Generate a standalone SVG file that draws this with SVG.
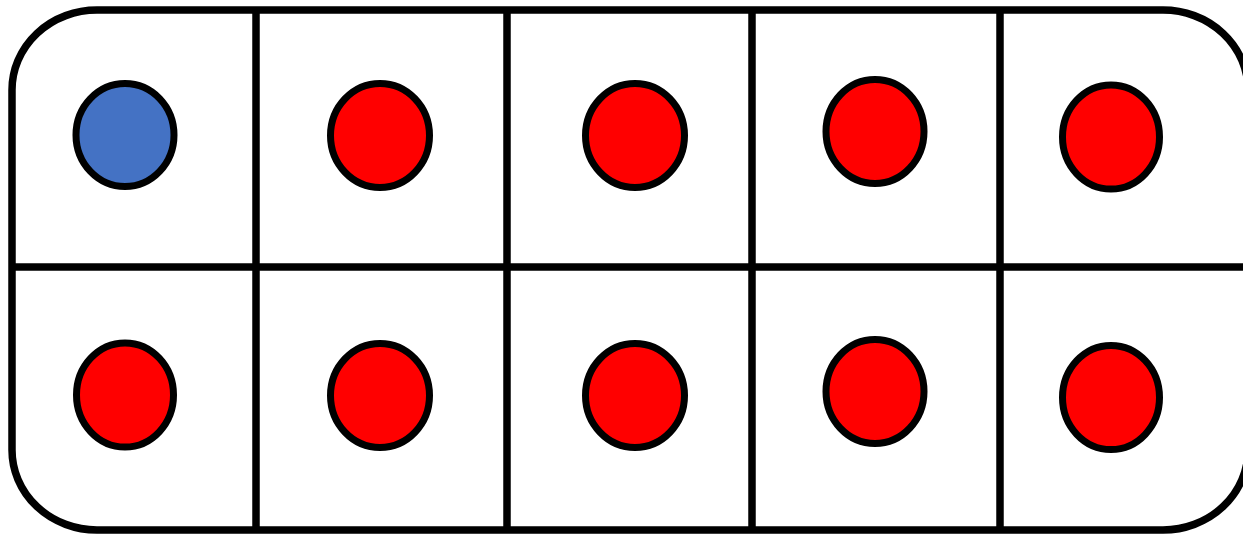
<svg xmlns="http://www.w3.org/2000/svg" width="1243" height="536" viewBox="0 0 1243 536">
<style>
.frame{fill:#ffffff;stroke:#000000;stroke-width:7.5}
.grid{stroke:#000000;stroke-width:7.5;fill:none}
.dot{stroke:#000000;stroke-width:7}
.red{fill:#ff0000}
.blue{fill:#4472c4}
</style>
<rect width="1243" height="536" fill="#ffffff"/>
<g id="frame">
<rect class="frame" x="12" y="10" width="1236" height="520" rx="85" ry="80"/>
</g>
<g id="grid">
<line class="grid" x1="256" y1="10" x2="256" y2="530"/>
<line class="grid" x1="507" y1="10" x2="507" y2="530"/>
<line class="grid" x1="752" y1="10" x2="752" y2="530"/>
<line class="grid" x1="1000" y1="10" x2="1000" y2="530"/>
<line class="grid" x1="12" y1="267" x2="1248" y2="267"/>
</g>
<g id="dot-1"><ellipse class="dot blue" cx="125" cy="135" rx="49" ry="51.5"/></g>
<g id="dot-2"><ellipse class="dot red" cx="380" cy="135.5" rx="49.5" ry="52"/></g>
<g id="dot-3"><ellipse class="dot red" cx="635" cy="135.5" rx="49.5" ry="52"/></g>
<g id="dot-4"><ellipse class="dot red" cx="875" cy="131.5" rx="49" ry="52"/></g>
<g id="dot-5"><ellipse class="dot red" cx="1111" cy="137" rx="48.5" ry="52"/></g>
<g id="dot-6"><ellipse class="dot red" cx="125" cy="395" rx="48.5" ry="52"/></g>
<g id="dot-7"><ellipse class="dot red" cx="380" cy="395.5" rx="49.5" ry="52"/></g>
<g id="dot-8"><ellipse class="dot red" cx="635" cy="395.5" rx="49.5" ry="52"/></g>
<g id="dot-9"><ellipse class="dot red" cx="875" cy="391.5" rx="49" ry="52"/></g>
<g id="dot-10"><ellipse class="dot red" cx="1111" cy="397.5" rx="48.5" ry="52"/></g>
</svg>
